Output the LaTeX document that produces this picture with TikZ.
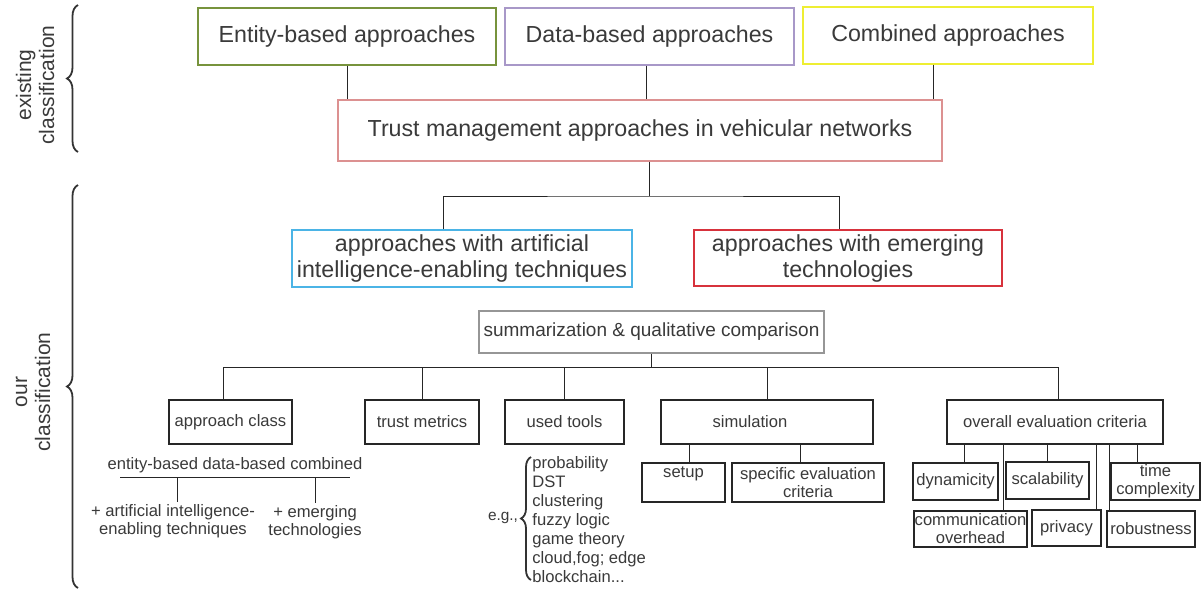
\documentclass[tikz,border=0pt]{standalone}
\usepackage{fontspec}
\setmainfont{Liberation Sans}
\usetikzlibrary{decorations.pathreplacing,shadows}

\definecolor{txtgray}{RGB}{58,58,58}
\definecolor{entgreen}{RGB}{119,147,60}
\definecolor{datpurple}{RGB}{168,152,200}
\definecolor{comyellow}{RGB}{238,238,50}
\definecolor{tmared}{RGB}{220,145,145}
\definecolor{aiblue}{RGB}{75,180,230}
\definecolor{emgred}{RGB}{215,50,60}
\definecolor{sumgray}{RGB}{150,150,150}

\tikzset{
  box/.style={draw=#1, line width=0.6pt, fill=white, inner sep=0pt, align=center, text=txtgray,
    drop shadow={shadow xshift=0.7pt, shadow yshift=-0.7pt, fill=black!30, opacity=0.5}},
  box/.default=black!85,
  bigfont/.style={font=\fontsize{11.6}{13}\selectfont},
  smallfont/.style={font=\fontsize{8.3}{9}\selectfont},
  wh/.style 2 args={minimum width=#1, minimum height=#2},
  wire/.style={line width=0.5pt, draw=black!85},
  curly/.style={decorate, decoration={brace, amplitude=#1}, line width=0.9pt, draw=black!80},
}

\begin{document}
\begin{tikzpicture}[x=0.5pt, y=-0.5pt]
    \useasboundingbox (0,0) rectangle (1202,590);
    \node[box=entgreen, bigfont, wh={149pt}{28.5pt}] (ent) at (347,36.5) {Entity-based approaches};
    \node[box=datpurple, bigfont, wh={144.5pt}{28.5pt}] (dat) at (649.5,36.5) {Data-based approaches};
    \node[box=comyellow, bigfont, wh={145pt}{28.5pt}] (com) at (948,35.5) {Combined approaches};
    \node[box=tmared, bigfont, wh={302pt}{30.5pt}] (tma) at (640,130.5) {Trust management approaches in vehicular networks};
    \draw[wire] (ent.south) -- (ent.south |- tma.north);
    \draw[wire] ([xshift=-1.75pt]dat.south) -- ([xshift=-1.75pt]dat.south |- tma.north);
    \draw[wire] ([xshift=-7.5pt]com.south) -- ([xshift=-7.5pt]com.south |- tma.north);

    \node[box=aiblue, bigfont, wh={170pt}{28.5pt}] (ai) at (462,258.5) {approaches with artificial\\intelligence-enabling techniques};
    \node[box=emgred, bigfont, wh={154pt}{28pt}] (emg) at (848,258) {approaches with emerging\\technologies};
    \coordinate (split) at (649,196);
    \draw[wire] ([xshift=4.5pt]tma.south) -- (split);
    \draw[wire] ([xshift=-9.5pt]ai.north) |- (split) -| ([xshift=-4.5pt]emg.north);

    \node[box=sumgray, font=\fontsize{9.5}{11}\selectfont, wh={172.5pt}{21pt}] (sum) at (651.5,332) {summarization \& qualitative comparison};
    \node[box, smallfont, wh={61.5pt}{22pt}] (apc) at (230.5,422) {approach class};
    \node[box, smallfont, wh={57pt}{22pt}] (tmx) at (422,422) {trust metrics};
    \node[box, smallfont, wh={59.5pt}{22pt}] (utl) at (564.5,422) {used tools};
    \node[box, smallfont, wh={106pt}{22pt}] (sim) at (767,422) {simulation\hspace*{17pt}};
    \node[box, smallfont, wh={108pt}{22pt}] (oev) at (1055,422) {overall evaluation criteria};
    \coordinate (bus) at (651.5,367);
    \draw[wire] (sum.south) -- (bus);
    \draw[wire] ([xshift=-3.75pt]apc.north) |- (bus) -| ([xshift=1.5pt]oev.north);
    \foreach \n in {tmx,utl,sim}
      \draw[wire] (\n.north) -- (\n.north |- bus);

    \node[smallfont, text=txtgray] (cls) at (235,465) {entity-based data-based combined};
    \coordinate (barl) at (120,477);
    \coordinate (barr) at (350,477);
    \draw[wire] (barl) -- (barr);
    \node[smallfont, text=txtgray, align=center, inner sep=1pt] (aitx) at (173,521) {+ artificial intelligence-\\enabling techniques};
    \node[smallfont, text=txtgray, align=center, inner sep=1pt] (emtx) at (315,522) {+ emerging\\technologies};
    \draw[wire] ([xshift=2pt]aitx.north) -- ([xshift=2pt]aitx.north |- barl);
    \draw[wire] (emtx.north) -- (emtx.north |- barl);

    \node[font=\fontsize{7.7}{9}\selectfont, text=txtgray] (eg) at (503,518) {e.g.,};
    \draw[curly=5pt] (531,580) -- (531,457);
    \node[font=\fontsize{8.3}{9.5}\selectfont, text=txtgray, align=left, anchor=west, inner sep=0.5pt] (tools) at (531,520) {probability\\DST\\clustering\\fuzzy logic\\game theory\\cloud,fog; edge\\blockchain...};

    \node[box, smallfont, wh={41.5pt}{19.5pt}, text depth=10pt] (stp) at (683.5,482.5) {setup};
    \node[box, smallfont, wh={76pt}{19.5pt}] (spc) at (808,482.5) {specific evaluation\\criteria};
    \draw[wire] ([xshift=2.75pt]stp.north) -- ([xshift=2.75pt]stp.north |- sim.south);
    \draw[wire] ([xshift=-4pt]spc.north) -- ([xshift=-4pt]spc.north |- sim.south);

    \node[box, smallfont, wh={42.5pt}{18.5pt}] (dyn) at (955.5,481.5) {dynamicity};
    \node[box, smallfont, wh={41.5pt}{18.5pt}] (scl) at (1047.5,480.5) {scalability};
    \node[box, smallfont, wh={44.5pt}{18.5pt}] (tcx) at (1155.5,481.5) {time\\complexity};
    \node[box, smallfont, wh={56.5pt}{18pt}] (cov) at (970.5,529) {communication\\overhead};
    \node[box, smallfont, wh={34.5pt}{18pt}] (prv) at (1066.5,528) {privacy};
    \node[box, smallfont, wh={44pt}{18pt}] (rob) at (1151,529) {robustness};
    \foreach \n/\s in {dyn/4.25pt, scl/0pt, tcx/-9.25pt, cov/16.25pt, prv/14.75pt, rob/-21pt}
      \draw[wire] ([xshift=\s]\n.north) -- ([xshift=\s]\n.north |- oev.south);

    \node[rotate=90, font=\fontsize{10.5}{11.5}\selectfont, text=txtgray, align=center] (excl) at (35,85) {existing\\classification};
    \node[rotate=90, font=\fontsize{10.5}{11.5}\selectfont, text=txtgray, align=center] (ourcl) at (33,392) {our\\classification};
    \draw[curly=5.5pt] (78,152) -- (78,5);
    \draw[curly=5.5pt] (78,588) -- (78,185);
\end{tikzpicture}
\end{document}
